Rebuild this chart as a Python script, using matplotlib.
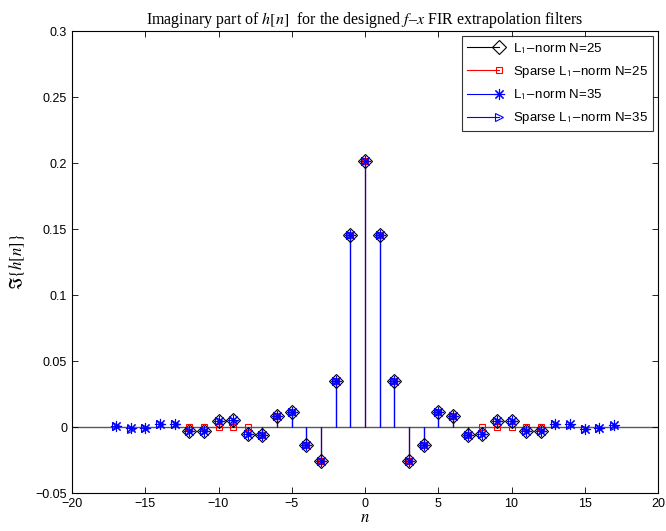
import numpy as np
import matplotlib
matplotlib.use("Agg")
import matplotlib.pyplot as plt
from matplotlib.lines import Line2D
from matplotlib.legend_handler import HandlerBase

# ---------------- data ----------------
n25 = list(range(-12, 13))
n35 = list(range(-17, 18))

l1_n25 = [-0.0030, -0.0030, 0.0045, 0.0050, -0.0052, -0.0058, 0.0084, 0.0114, -0.0136, -0.0260,
          0.0352, 0.1452, 0.2015, 0.1452, 0.0352, -0.0260, -0.0139, 0.0114, 0.0087, -0.0062,
          -0.0056, 0.0046, 0.0042, -0.0033, -0.0033]
sparse_n25 = [0.0, 0.0, 0.0, 0.0, 0.0, -0.0058, 0.0084, 0.0114, -0.0136, -0.0260,
              0.0352, 0.1452, 0.2015, 0.1452, 0.0352, -0.0260, -0.0139, 0.0114, 0.0087, -0.0062,
              0.0, 0.0, 0.0, 0.0, 0.0]
l1_n35 = [0.0011, -0.0011, -0.0009, 0.0022, 0.0020,
          -0.0030, -0.0030, 0.0045, 0.0050, -0.0052, -0.0058, 0.0084, 0.0114, -0.0136, -0.0260,
          0.0352, 0.1452, 0.2015, 0.1452, 0.0352, -0.0260, -0.0139, 0.0114, 0.0087, -0.0062,
          -0.0056, 0.0046, 0.0042, -0.0033, -0.0033,
          0.0020, 0.0019, -0.0012, -0.0009, 0.0012]
sparse_n35 = [0.0010, -0.0012, -0.0010, 0.0021, 0.0019,
              -0.0031, -0.0030, 0.0044, 0.0049, -0.0053, -0.0058, 0.0084, 0.0114, -0.0136, -0.0260,
              0.0352, 0.1452, 0.2015, 0.1452, 0.0352, -0.0260, -0.0139, 0.0114, 0.0087, -0.0062,
              -0.0056, 0.0046, 0.0042, -0.0033, -0.0033,
              0.0019, 0.0018, -0.0013, -0.0010, 0.0011]

labels = [r"L$_\mathsf{1}$$\mathsf{-}$norm N=25", r"Sparse L$_\mathsf{1}$$\mathsf{-}$norm N=25",
          r"L$_\mathsf{1}$$\mathsf{-}$norm N=35", r"Sparse L$_\mathsf{1}$$\mathsf{-}$norm N=35"]
xticks = [-20, -15, -10, -5, 0, 5, 10, 15, 20]
yticks = [-0.05, 0, 0.05, 0.1, 0.15, 0.2, 0.25, 0.3]
yticklabels = ["\u22120.05", "0", "0.05", "0.1", "0.15", "0.2", "0.25", "0.3"]

# ---------------- style ----------------
plt.rcParams['font.family'] = ['Liberation Sans', 'DejaVu Sans']
plt.rcParams['mathtext.fontset'] = 'stix'

fig = plt.figure(figsize=(6.66, 5.31), dpi=100)
ax = fig.add_axes([72/666, 38/531, 586/666, 462/531])

ax.axhline(0, color='0.35', lw=1.0, zorder=1)

asterisk = (8, 2, 0)
series = [
    (n25, l1_n25, 'k', 'D', 6.8, 0.8),
    (n25, sparse_n25, 'r', 's', 4.5, 0.8),
    (n35, l1_n35, 'b', asterisk, 8.0, 0.8),
    (n35, sparse_n35, 'b', '>', 5.5, 0.8),
]
handles = []
for xs, ys, c, m, ms, lw in series:
    ax.vlines(xs, 0, ys, colors=c, lw=lw, zorder=2)
    ax.plot(xs, ys, linestyle='none', marker=m, markersize=ms, markeredgecolor=c,
            markerfacecolor='none', markeredgewidth=0.8, zorder=3)
    handles.append(Line2D([], [], color=c, lw=lw, marker=m, markersize=ms,
                          markeredgecolor=c, markerfacecolor='none', markeredgewidth=0.8))


class EndMarkerHandler(HandlerBase):
    def create_artists(self, legend, orig_handle, xdescent, ydescent, width, height, fontsize, trans):
        y = height / 2 - ydescent
        line = Line2D([-xdescent, width - xdescent], [y, y], color=orig_handle.get_color(),
                      lw=orig_handle.get_linewidth())
        mk = Line2D([width - xdescent], [y], linestyle='none', marker=orig_handle.get_marker(),
                    markersize=orig_handle.get_markersize(),
                    markeredgecolor=orig_handle.get_markeredgecolor(),
                    markerfacecolor='none', markeredgewidth=0.8)
        line.set_transform(trans)
        mk.set_transform(trans)
        return [line, mk]


leg = ax.legend(handles, labels, loc='upper right', fontsize=9.5, frameon=True, fancybox=False,
                handler_map={Line2D: EndMarkerHandler()}, handlelength=2.4,
                borderaxespad=0.4, labelspacing=0.6, handletextpad=1.1, borderpad=0.35)
leg.get_frame().set_edgecolor('k')
leg.get_frame().set_linewidth(0.8)

ax.set_xlim(-20, 20)
ax.set_ylim(-0.05, 0.3)
ax.set_xticks(xticks)
ax.set_yticks(yticks)
ax.set_yticklabels(yticklabels)
ax.tick_params(direction='in', length=4, width=0.6, top=True, right=True, labelsize=9)
for s in ax.spines.values():
    s.set_linewidth(0.8)

ax.set_title("Imaginary part of $h[n]$  for the designed $f$\u2013$x$ FIR extrapolation filters",
             family='Liberation Serif', fontsize=11.5, pad=5)
ax.set_xlabel("$n$", fontsize=12, labelpad=0)
ax.set_ylabel(r"$\Im\{h[n]\}$", fontsize=12, labelpad=6)

fig.savefig("out.png", dpi=100)
